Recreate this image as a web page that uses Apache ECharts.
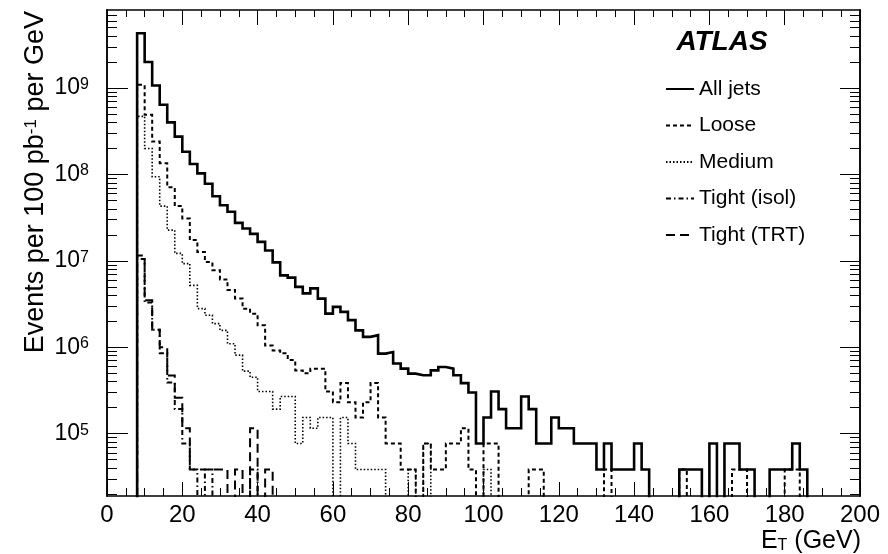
<!DOCTYPE html>
<html><head><meta charset="utf-8">
<script src="https://cdn.jsdelivr.net/npm/echarts@6/dist/echarts.min.js"></script>
<style>html,body{margin:0;padding:0;background:#fff}#c{width:888px;height:554px}</style>
</head><body><div id="c"></div>
<script>
// Bin edges (GeV), 2 GeV bins from 8 to 188
const binEdges = [8,10,12,14,16,18,20,22,24,26,28,30,32,34,36,38,40,42,44,46,48,50,52,54,56,58,60,62,64,66,68,70,72,74,76,78,80,82,84,86,88,90,92,94,96,98,100,102,104,106,108,110,112,114,116,118,120,122,124,126,128,130,132,134,136,138,140,142,144,146,148,150,152,154,156,158,160,162,164,166,168,170,172,174,176,178,180,182,184,186,188];

const allJets = [
  4.3e9, 2.0e9, 1.07e9, 6.4e8, 4.0e8, 2.74e8, 1.83e8, 1.32e8, 1.03e8, 7.8e7,
  5.6e7, 4.4e7, 3.7e7, 2.75e7, 2.37e7, 2.05e7, 1.66e7, 1.32e7, 9.6e6, 6.8e6,
  6.4e6, 5.0e6, 4.2e6, 4.8e6, 3.66e6, 2.45e6, 2.93e6, 2.57e6, 2.06e6, 1.57e6,
  1.32e6, 1.38e6, 8.45e5, 8.8e5, 6.5e5, 5.66e5, 4.95e5, 4.74e5, 4.74e5, 5.4e5,
  5.9e5, 5.66e5, 4.74e5, 3.85e5, 3.0e5, 77000, 154000, 308000, 192500, 115500,
  115500, 269500, 192500, 77000, 77000, 154000, 115500, 115500, 77000, 77000,
  77000, 38500, 77000, 38500, 38500, 38500, 77000, 38500, 0, 0,
  0, 0, 38500, 38500, 38500, 0, 77000, 0, 77000, 77000,
  38500, 38500, 0, 0, 38500, 38500, 38500, 77000, 38500, 0
];
const loose = [
  1.09e9, 4.9e8, 2.4e8, 1.35e8, 7.1e7, 4.3e7, 3.1e7, 1.74e7, 1.27e7, 9.7e6,
  7.8e6, 6.1e6, 4.6e6, 3.66e6, 2.8e6, 2.45e6, 1.8e6, 1.05e6, 9.2e5, 8.5e5,
  7.1e5, 5.4e5, 5.0e5, 5.66e5, 5.66e5, 308000, 231000, 385000, 231000, 154000,
  231000, 385000, 154000, 77000, 77000, 38500, 38500, 0, 77000, 38500,
  38500, 77000, 77000, 115500, 38500, 0, 77000, 77000, 0, 0,
  0, 0, 38500, 38500, 0, 0, 0, 0, 0, 0,
  0, 0, 38500, 0, 0, 0, 0, 0, 0, 0,
  0, 0, 38500, 0, 0, 0, 0, 0, 0, 38500,
  38500, 0, 0, 0, 0, 0, 38500, 38500, 0, 0
];
const medium = [
  4.7e8, 2.0e8, 9.4e7, 4.3e7, 2.27e7, 1.22e7, 9.3e6, 5.2e6, 2.8e6, 2.35e6,
  1.88e6, 1.57e6, 1.1e6, 8.1e5, 5.3e5, 4.5e5, 308000, 308000, 192500, 269500,
  269500, 77000, 154000, 115500, 154000, 154000, 0, 154000, 77000, 38500,
  38500, 38500, 38500, 0, 0, 0, 38500, 0, 77000, 0,
  0, 0, 0, 0, 0, 0, 38500, 0, 0, 0,
  0, 0, 0, 0, 0, 0, 0, 0, 0, 0,
  0, 0, 0, 0, 0, 0, 0, 0, 0, 0,
  0, 0, 0, 0, 0, 0, 0, 0, 0, 0,
  0, 0, 0, 0, 0, 0, 0, 0, 0, 0
];
const tightIsol = [
  1.05e7, 3.3e6, 1.6e6, 8.5e5, 3.9e5, 192500, 77000, 38500, 0, 38500,
  0, 0, 0, 0, 0, 38500, 0, 0, 0, 0,
  0, 0, 0, 0, 0, 0, 0, 0, 0, 0,
  0, 0, 0, 0, 0, 0, 0, 0, 0, 0,
  0, 0, 0, 0, 0, 0, 0, 0, 0, 0,
  0, 0, 0, 0, 0, 0, 0, 0, 0, 0,
  0, 0, 0, 0, 0, 0, 0, 0, 0, 0,
  0, 0, 0, 0, 0, 0, 0, 0, 0, 0,
  0, 0, 0, 0, 0, 0, 0, 0, 0, 0
];
const tightTRT = [
  1.15e7, 3.5e6, 1.6e6, 1.0e6, 4.7e5, 2.6e5, 115500, 38500, 38500, 38500,
  38500, 38500, 0, 38500, 0, 115500, 0, 38500, 0, 0,
  0, 0, 0, 0, 0, 0, 0, 0, 0, 0,
  0, 0, 0, 0, 0, 0, 0, 0, 0, 0,
  0, 0, 0, 0, 0, 0, 0, 0, 0, 0,
  0, 0, 0, 0, 0, 0, 0, 0, 0, 0,
  0, 0, 0, 0, 0, 0, 0, 0, 0, 0,
  0, 0, 0, 0, 0, 0, 0, 0, 0, 0,
  0, 0, 0, 0, 0, 0, 0, 0, 0, 0
];

const seriesNames = ['All jets', 'Loose', 'Medium', 'Tight (isol)', 'Tight (TRT)'];
const yMajorTicks = [1e5, 1e6, 1e7, 1e8, 1e9];
const yMinorTicks = [
  2e4,3e4,4e4,5e4,6e4,7e4,8e4,9e4,
  2e5,3e5,4e5,5e5,6e5,7e5,8e5,9e5,
  2e6,3e6,4e6,5e6,6e6,7e6,8e6,9e6,
  2e7,3e7,4e7,5e7,6e7,7e7,8e7,9e7,
  2e8,3e8,4e8,5e8,6e8,7e8,8e8,9e8,
  2e9,3e9,4e9,5e9,6e9,7e9
];
const Y_MIN = 1.9e4, Y_MAX = 8e9;
const FLOOR = 100; // empty bins drop below the axis floor (clipped)

const FONT = '"Liberation Sans", Arial, Helvetica, sans-serif';
const BLACK = '#000';

function histPoints(vals) {
  const pts = [[binEdges[0], FLOOR]];
  vals.forEach((v, i) => pts.push([binEdges[i], v > 0 ? v : FLOOR]));
  pts.push([binEdges[vals.length], FLOOR]);
  return pts;
}

function xAxisDef(pos, showLabel, majorLen, minorLen) {
  return {
    type: 'value', min: 0, max: 200, interval: 20, position: pos, gridIndex: 0,
    axisLine: { show: true, onZero: false, lineStyle: { color: BLACK, width: 1.5 } },
    axisTick: { show: true, inside: true, length: majorLen, lineStyle: { color: BLACK, width: 1 } },
    minorTick: { show: true, splitNumber: 4, length: minorLen, lineStyle: { color: BLACK, width: 1 } },
    axisLabel: { show: showLabel, fontSize: 24, color: BLACK, fontFamily: FONT, margin: 7 },
    splitLine: { show: false }, minorSplitLine: { show: false }
  };
}
function yAxisDef(pos, ticks, len, withLabels) {
  return {
    type: 'log', logBase: 10, min: Y_MIN, max: Y_MAX, position: pos, gridIndex: 0,
    axisLine: { show: true, onZero: false, lineStyle: { color: BLACK, width: 1.5 } },
    axisTick: { show: true, inside: true, length: len, customValues: ticks, lineStyle: { color: BLACK, width: 1 } },
    minorTick: { show: false },
    axisLabel: withLabels ? {
      show: true, customValues: ticks, margin: 18,
      formatter: v => '{b|10}{s|' + Math.round(Math.log10(v)) + '}',
      rich: {
        b: { fontSize: 23, fontFamily: FONT, color: BLACK, lineHeight: 23, padding: [10, 0, 0, 0], verticalAlign: 'bottom' },
        s: { fontSize: 16, fontFamily: FONT, color: BLACK, lineHeight: 16, verticalAlign: 'top' }
      }
    } : { show: false },
    splitLine: { show: false }
  };
}

const styles = [
  { width: 2.6, type: 'solid' },
  { width: 2, type: [4, 3] },
  { width: 1.6, type: [1.5, 2] },
  { width: 2, type: [5, 3, 1.5, 3] },
  { width: 2, type: [9, 5] }
];
const dataSets = [allJets, loose, medium, tightIsol, tightTRT];

const option = {
  animation: false,
  backgroundColor: '#fff',
  grid: { left: 107, right: 28, top: 10, bottom: 58, containLabel: false },
  xAxis: [xAxisDef('bottom', true, 14, 8), xAxisDef('top', false, 15, 7)],
  yAxis: [
    yAxisDef('left', yMajorTicks, 21, true),
    yAxisDef('left', yMinorTicks, 10, false),
    yAxisDef('right', yMajorTicks, 20, false),
    yAxisDef('right', yMinorTicks, 10, false)
  ],
  legend: {
    data: seriesNames, orient: 'vertical', left: 660, top: 73,
    itemWidth: 28, itemHeight: 14, itemGap: 14.5, selectedMode: false,
    itemStyle: { opacity: 0, borderWidth: 0 },
    textStyle: { fontSize: 21, fontFamily: FONT, color: BLACK, lineHeight: 22 }
  },
  graphic: [
    { type: 'text', x: 722, y: 42, style: { text: 'ATLAS', fontSize: 28, fontWeight: 'bold', fontStyle: 'italic', fontFamily: FONT, fill: BLACK, align: 'center', verticalAlign: 'middle' } },
    { type: 'text', x: 861, y: 541, style: {
        text: '{n|E}{t|T}{n| (GeV)}', align: 'right', verticalAlign: 'middle',
        rich: {
          n: { fontSize: 25, fontFamily: FONT, fill: BLACK, color: BLACK, lineHeight: 25, padding: [0, 0, 6, 0], verticalAlign: 'top' },
          t: { fontSize: 16, fontFamily: FONT, fill: BLACK, color: BLACK, lineHeight: 16, verticalAlign: 'bottom' }
        } } },
    { type: 'text', x: 36, y: 11, rotation: Math.PI / 2, style: {
        text: '{n|Events per 100 pb}{s|-1}{n| per GeV}', align: 'right', verticalAlign: 'middle',
        rich: {
          n: { fontSize: 27, fontFamily: FONT, fill: BLACK, color: BLACK, lineHeight: 27, padding: [8, 0, 0, 0], verticalAlign: 'bottom' },
          s: { fontSize: 17, fontFamily: FONT, fill: BLACK, color: BLACK, lineHeight: 17, verticalAlign: 'top' }
        } } }
  ],
  series: dataSets.map((d, i) => ({
    name: seriesNames[i], type: 'line', step: 'end', symbol: 'none', showSymbol: false,
    xAxisIndex: 0, yAxisIndex: 0, clip: true, z: 10 - i,
    lineStyle: { color: BLACK, width: styles[i].width, type: styles[i].type, cap: 'butt', join: 'miter' },
    itemStyle: { color: BLACK },
    data: histPoints(d)
  }))
};

const chart = echarts.init(document.getElementById('c'), null, { renderer: 'canvas' });
chart.setOption(option);
</script>
</body></html>
